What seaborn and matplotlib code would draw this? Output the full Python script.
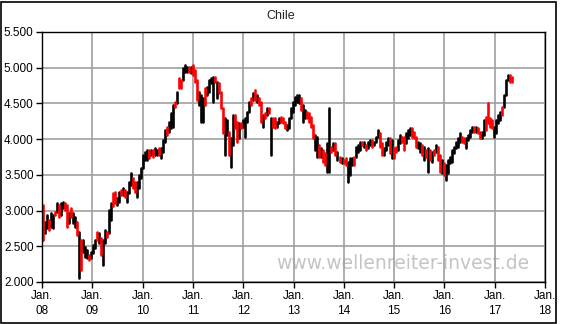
import numpy as np
import pandas as pd
import matplotlib
matplotlib.use("Agg")
import matplotlib.pyplot as plt
import matplotlib.dates as mdates
from matplotlib.patches import Rectangle
import seaborn as sns

# ---- data (roughly bi-weekly bars) ----
highs = [3080, 2840, 2940, 2870, 2970, 2940, 2980, 3110, 3080, 3110,
         3120, 3110, 3080, 2970, 3040, 2970, 2910, 2840, 2700, 2590,
         2590, 2490, 2450, 2380, 2420, 2520, 2590, 2700, 2690, 2620,
         2590, 2730, 2700, 3010, 3110, 3250, 3260, 3180, 3260, 3290,
         3320, 3290, 3260, 3400, 3530, 3460, 3400, 3400, 3500, 3600,
         3780, 3820, 3850, 3850, 3850, 3850, 3880, 3850, 3880, 3880,
         3990, 4130, 4170, 4240, 4370, 4480, 4520, 4660, 4860, 4830,
         5000, 5040, 5010, 5010, 5010, 5040, 4970, 4830, 4660, 4620,
         4570, 4720, 4730, 4830, 4860, 4870, 4870, 4800, 4790, 4660,
         4440, 4300, 4270, 4100, 4020, 4340, 4340, 4240, 4230, 4230,
         4270, 4300, 4380, 4520, 4580, 4650, 4690, 4620, 4580, 4520,
         4340, 4370, 4440, 4440, 4300, 4300, 4300, 4240, 4300, 4310,
         4300, 4240, 4200, 4300, 4440, 4520, 4590, 4620, 4620, 4580,
         4480, 4410, 4380, 4370, 4310, 4200, 4060, 4030, 3920, 3880,
         3850, 3810, 3950, 4440, 3890, 3950, 3950, 3820, 3750, 3740,
         3710, 3740, 3680, 3740, 3740, 3750, 3890, 3920, 3960, 3960,
         3960, 3920, 3960, 3990, 3990, 3960, 4030, 4130, 4090, 3950,
         3880, 3960, 4020, 4020, 3990, 3880, 3890, 3990, 4060, 4030,
         4030, 4090, 4130, 4160, 4160, 4100, 4030, 3960, 3950, 3920,
         3890, 3850, 3880, 3850, 3820, 3850, 3920, 3890, 3780, 3710,
         3670, 3640, 3710, 3750, 3850, 3890, 3960, 4020, 4090, 4030,
         4020, 4020, 4060, 4130, 4170, 4170, 4170, 4160, 4100, 4100,
         4270, 4310, 4510, 4300, 4270, 4170, 4270, 4340, 4380, 4450,
         4620, 4830, 4900, 4900, 4870]
lows = [2590, 2690, 2760, 2730, 2770, 2760, 2940, 2980, 2910, 2940,
        3040, 3010, 2770, 2830, 2910, 2830, 2770, 2660, 2060, 2170,
        2420, 2350, 2340, 2310, 2340, 2410, 2480, 2590, 2550, 2380,
        2240, 2550, 2630, 2690, 2870, 3060, 3110, 3080, 3120, 3220,
        3220, 3190, 3120, 3250, 3360, 3320, 3260, 3190, 3320, 3460,
        3600, 3710, 3710, 3740, 3780, 3750, 3780, 3780, 3780, 3740,
        3820, 3960, 4060, 4100, 4160, 4170, 4450, 4510, 4720, 4720,
        4830, 4940, 4940, 4940, 4930, 4900, 4800, 4550, 4480, 4240,
        4240, 4480, 4620, 4660, 4790, 4520, 4800, 4580, 4650, 4440,
        4090, 3780, 4060, 3780, 3610, 3920, 4160, 3960, 4020, 4160,
        4170, 4030, 4240, 4380, 4480, 4550, 4550, 4520, 4480, 4240,
        4170, 4300, 4340, 4370, 3780, 4170, 4160, 4170, 4230, 4240,
        4230, 4160, 4130, 4160, 4300, 4380, 4480, 4520, 4510, 4410,
        4240, 4300, 4300, 4240, 4170, 4020, 3850, 3750, 3750, 3750,
        3680, 3640, 3540, 3540, 3820, 3850, 3780, 3710, 3680, 3670,
        3670, 3640, 3400, 3500, 3640, 3640, 3750, 3820, 3850, 3920,
        3890, 3850, 3880, 3920, 3890, 3920, 3960, 4030, 3890, 3780,
        3780, 3850, 3920, 3810, 3740, 3740, 3820, 3850, 3950, 3960,
        3850, 3950, 4020, 4060, 4030, 4020, 3890, 3880, 3820, 3780,
        3710, 3750, 3540, 3710, 3680, 3780, 3820, 3710, 3540, 3530,
        3500, 3430, 3530, 3670, 3680, 3810, 3880, 3890, 3960, 3960,
        3950, 3880, 3990, 4030, 4100, 4100, 4100, 4090, 4020, 4020,
        4060, 4130, 4230, 4170, 4160, 4030, 4090, 4230, 4270, 4340,
        4450, 4620, 4830, 4800, 4800]
down = [1, 0, 0, 1, 0, 0, 1, 0, 1, 0,
        0, 1, 1, 0, 1, 0, 0, 1, 0, 1,
        0, 0, 0, 1, 0, 0, 0, 1, 0, 1,
        0, 0, 1, 0, 0, 1, 1, 0, 0, 1,
        0, 1, 0, 0, 0, 1, 1, 0, 0, 0,
        0, 0, 0, 1, 0, 1, 0, 0, 1, 0,
        0, 0, 1, 0, 0, 0, 1, 0, 1, 1,
        0, 0, 0, 1, 0, 1, 1, 1, 0, 0,
        0, 1, 0, 0, 0, 0, 1, 0, 1, 1,
        1, 0, 0, 1, 0, 0, 1, 1, 0, 1,
        0, 0, 0, 0, 1, 0, 1, 0, 1, 1,
        0, 1, 0, 1, 0, 1, 1, 0, 0, 1,
        1, 1, 0, 0, 0, 0, 0, 0, 0, 1,
        0, 0, 1, 1, 1, 1, 0, 0, 1, 0,
        1, 1, 0, 0, 1, 0, 1, 0, 1, 0,
        1, 1, 0, 0, 0, 1, 0, 0, 0, 1,
        0, 1, 0, 0, 1, 0, 0, 0, 1, 1,
        0, 0, 0, 1, 0, 1, 1, 0, 0, 1,
        1, 0, 0, 0, 1, 1, 1, 0, 0, 1,
        0, 1, 0, 1, 0, 1, 0, 1, 1, 0,
        1, 0, 0, 0, 0, 0, 0, 0, 0, 1,
        1, 0, 0, 0, 0, 1, 0, 1, 1, 0,
        0, 1, 1, 1, 1, 0, 0, 0, 0, 1,
        0, 0, 0, 1, 1]
start_date, end_date = "2008-01-08", "2017-05-05"
year_ticks = list(range(2008, 2019))
y_ticks = [2000, 2500, 3000, 3500, 4000, 4500, 5000, 5500]
title = "Chile"
watermark = "www.wellenreiter-invest.de"

# ---- build long-form table: two rows (low, high) per bar ----
dates = pd.date_range(start_date, end_date, periods=len(highs))
rows = []
for i, (d, h, l, dn) in enumerate(zip(dates, highs, lows, down)):
    kind = "down" if dn else "up"
    rows.append({"date": d, "value": l, "bar": i, "dir": kind})
    rows.append({"date": d, "value": h, "bar": i, "dir": kind})
df = pd.DataFrame(rows)

sns.set_theme(style="white")
plt.rcParams["font.family"] = ["Liberation Sans", "DejaVu Sans"]

fig = plt.figure(figsize=(5.62, 3.24), dpi=100)
ax = fig.add_axes([42 / 562, 1 - 282 / 324, (545 - 42) / 562, (282 - 32) / 324])

sns.lineplot(data=df, x="date", y="value", units="bar", estimator=None,
             hue="dir", palette={"up": "black", "down": "#ff0000"},
             hue_order=["up", "down"], sort=False, linewidth=1.9,
             legend=False, ax=ax)

ax.set_xlim(pd.Timestamp("2008-01-01"), pd.Timestamp("2018-01-01"))
ax.set_ylim(2000, 5500)

xt = [pd.Timestamp(f"{y}-01-01") for y in year_ticks]
ax.set_xticks(xt)
ax.set_xticklabels([f"Jan.\n{str(y)[2:]}" for y in year_ticks], fontsize=8.5,
                   linespacing=1.25)
ax.set_yticks(y_ticks)
ax.set_yticklabels([f"{v:,}".replace(",", ".") for v in y_ticks], fontsize=8.5)
ax.tick_params(axis="both", which="both", direction="out", length=4, width=1,
               color="black", labelcolor="black", pad=2, bottom=True, left=True)

ax.grid(True, color="#a0a0a0", linewidth=1.2)
ax.set_axisbelow(True)
for s in ax.spines.values():
    s.set_visible(True)
    s.set_color("black")
    s.set_linewidth(1.0)

ax.set_xlabel("")
ax.set_ylabel("")
fig.text(0.5, 1 - 16 / 324, title, ha="center", va="center", fontsize=9)
ax.text(0.968, 0.075, watermark, transform=ax.transAxes, ha="right", va="center",
        fontsize=13.5, color="#c4c4c4", family="DejaVu Sans", zorder=0)

fig.patches.append(Rectangle((1 / 562, 1 / 324), 555 / 562, 321 / 324,
                             transform=fig.transFigure, fill=False,
                             edgecolor="black", linewidth=1.2))

fig.savefig("out.png", dpi=100)
